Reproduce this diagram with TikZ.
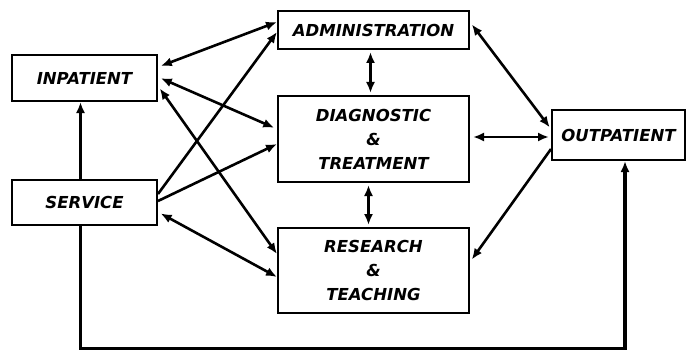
\documentclass[tikz,border=0pt]{standalone}
\usepackage{fontspec}
\setmainfont{DejaVu Sans}
\usetikzlibrary{arrows.meta,calc}
\tikzset{
  box/.style={draw=black,line width=2pt,rectangle,inner sep=0pt,align=center,
    font=\fontsize{16.5}{24}\selectfont\bfseries\itshape},
  tip/.tip={Latex[length=11pt,width=9pt]},
  link/.style={line width=2.6pt,tip-tip},
  oneway/.style={line width=2.6pt,-tip},
  loop/.style={line width=3.4pt,-tip}
}
\begin{document}
\begin{tikzpicture}[x=1pt,y=-1pt]
\useasboundingbox[fill=white] (0,0) rectangle (687,350);
\node[box,minimum width=145pt,minimum height=46pt] (inp) at (84.5,78) {INPATIENT};
\node[box,minimum width=145pt,minimum height=45pt] (srv) at (84.5,202.5) {SERVICE};
\node[box,minimum width=191pt,minimum height=38pt] (adm) at (373.5,30) {ADMINISTRATION};
\node[box,minimum width=191pt,minimum height=86pt] (dia) at (373.5,139) {DIAGNOSTIC\\\&\\TREATMENT};
\node[box,minimum width=191pt,minimum height=85pt] (res) at (373.5,270.5) {RESEARCH\\\&\\TEACHING};
\node[box,minimum width=133pt,minimum height=50pt] (out) at (618.5,135) {OUTPATIENT};
% left side connectors
\draw[link,shorten <=3pt] ($(inp.north east)+(0,13)$) -- ($(adm.north west)+(0,12)$);
\draw[link,shorten <=3pt,shorten >=3pt] ($(inp.north east)+(0,23)$) -- ($(dia.north west)+(0,34)$);
\draw[link,shorten <=3pt] ($(inp.north east)+(0,32)$) -- ($(res.north west)+(0,27)$);
\draw[oneway] ($(srv.north east)+(0,15)$) -- ($(adm.north west)+(0,22)$);
\draw[oneway] ($(srv.north east)+(0,22)$) -- ($(dia.north west)+(0,49)$);
\draw[link,shorten <=3pt] ($(srv.north east)+(0,33)$) -- ($(res.north west)+(0,50)$);
% vertical middle
\draw[link,shorten <=2pt,shorten >=2pt] ([xshift=-3pt]adm.south) -- ([xshift=-3pt]dia.north);
\draw[link,shorten <=2pt,shorten >=2pt] ([xshift=-5pt]dia.south) -- ([xshift=-5pt]res.north);
% right side
\draw[link,shorten <=3pt,shorten >=2pt] ($(adm.north east)+(0,12)$) -- ($(out.north west)+(0,20)$);
\draw[link,shorten <=3pt,shorten >=2pt] ($(dia.north east)+(0,42)$) -- ($(out.north west)+(0,28)$);
\draw[oneway,shorten >=3pt] ($(out.north west)+(0,40)$) -- ($(res.north east)+(0,35)$);
% service to inpatient and bottom loop
\draw[oneway,line width=3pt] ([xshift=-4pt]srv.north) -- ([xshift=-4pt]inp.south);
\coordinate (c1) at ($(srv.south)+(-4,123)$);
\draw[loop] ([xshift=-4pt]srv.south) -- (c1) -| ([xshift=6.5pt]out.south);
\end{tikzpicture}
\end{document}
